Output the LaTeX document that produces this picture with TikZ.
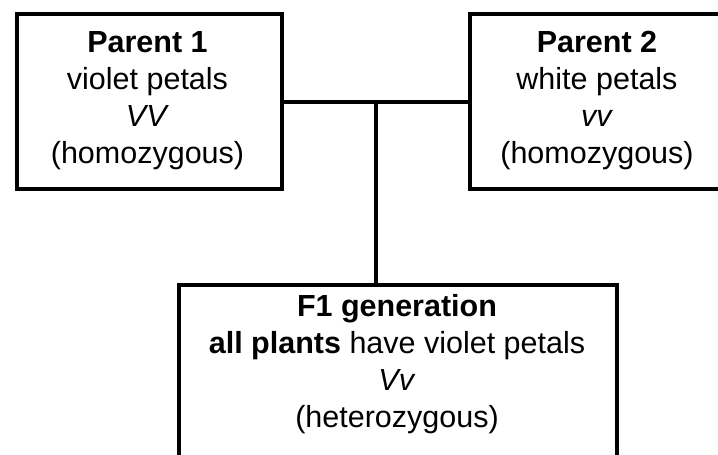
\documentclass[tikz,border=0pt]{standalone}
\usepackage{fontspec}
\setmainfont{Liberation Sans}
\usetikzlibrary{calc}
\begin{document}
\begin{tikzpicture}[x=1pt,y=-1pt,
  box/.style={draw=black, line width=4pt, fill=white, inner sep=0pt},
  txt/.style={align=center, font=\fontsize{30.5}{37}\selectfont, inner sep=0pt},
  conn/.style={draw=black, line width=4pt}]
\useasboundingbox (0,0) rectangle (718,455);
\clip (0,0) rectangle (718,455);
% boxes
\node[box, minimum width=265pt, minimum height=175pt, anchor=north west] (p1) at (15,12) {};
\node[box, minimum width=265pt, minimum height=175pt, anchor=north west] (p2) at (468,12) {};
\node[box, minimum width=438pt, minimum height=200pt, anchor=north west] (f1) at (177,283) {};
% texts
\node[txt] (p1t) at (147.5,101) {\textbf{Parent 1}\\violet petals\\\textit{VV}\\(homozygous)};
\node[txt] (p2t) at (597,101) {\textbf{Parent 2}\\white petals\\\textit{vv}\\(homozygous)};
\node[txt] (f1t) at (397,364) {\textbf{F1 generation}\\\textbf{all plants} have violet petals\\\textit{Vv}\\(heterozygous)};
% connectors
\coordinate (mid) at ($(p1.east)!0.5!(p2.west)$);
\draw[conn] (p1.east) -- (p2.west);
\draw[conn] (mid) -- (mid |- f1.north);
\end{tikzpicture}
\end{document}
